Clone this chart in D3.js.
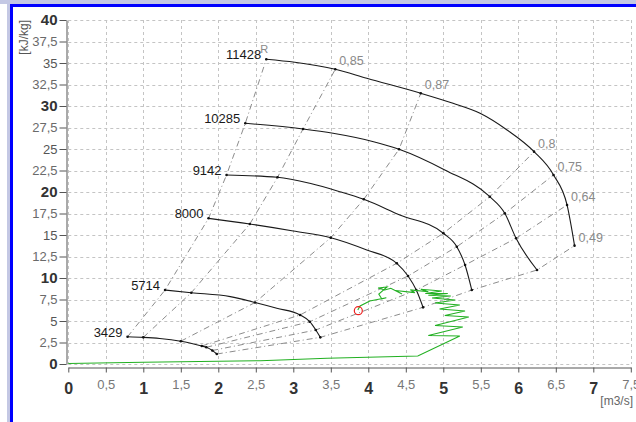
<!DOCTYPE html>
<html>
<head>
<meta charset="utf-8">
<script src="https://cdn.jsdelivr.net/npm/d3@7"></script>
<style>
html, body { margin: 0; padding: 0; background: #fff; }
svg { display: block; font-family: Arial, "Liberation Sans", sans-serif; }
</style>
</head>
<body>
<div id="wrapper"></div>
<script>
// speed lines (rpm) and efficiency lines
const speeds = [3429, 5714, 8000, 9142, 10285, 11428];
const effLabels = ["R", "0,85", "0,87", "0,8", "0,75", "0,64", "0,49"];

// marker points on each speed line, same order as effLabels
const marks3429 = [[0.79, 3.17], [1.00, 3.10], [1.50, 2.65], [1.78, 2.09], [1.84, 1.94], [1.92, 1.57], [1.98, 1.16]];
const marks5714 = [[1.29, 8.60], [1.64, 8.29], [2.49, 7.15], [3.09, 5.70], [3.22, 4.92], [3.30, 3.95], [3.36, 3.10]];
const marks8000 = [[1.87, 16.94], [2.42, 16.28], [3.50, 14.69], [4.38, 11.71], [4.53, 10.23], [4.64, 8.60], [4.73, 6.59]];
const marks9142 = [[2.11, 21.98], [2.79, 21.71], [3.94, 19.15], [5.00, 15.20], [5.18, 13.64], [5.29, 11.51], [5.38, 8.60]];
const marks10285 = [[2.36, 27.99], [3.13, 27.33], [4.41, 24.97], [5.62, 19.45], [5.82, 17.52], [5.97, 14.62], [6.25, 10.93]];
const marks11428 = [[2.64, 35.43], [3.56, 34.27], [4.70, 31.48], [6.21, 24.69], [6.47, 21.98], [6.65, 18.49], [6.75, 13.76]];

// extra points along each speed line between the markers
const mids3429 = [[1.22, 2.97], [1.62, 2.44]];
const mids5714 = [[2.16, 7.83], [2.78, 6.48]];
const mids8000 = [[3.00, 15.47], [3.98, 13.26]];
const mids9142 = [[3.22, 21.01], [3.62, 20.04], [4.42, 17.33]];
const mids10285 = [[3.53, 26.83], [4.07, 25.85], [5.02, 22.56]];
const mids11428 = [[3.02, 35.08], [3.98, 33.22], [5.13, 30.31], [5.49, 29.15], [5.85, 27.21]];

// operating trace (green)
const opLine = [
    [0, 0.05], [1.0, 0.2], [2.56, 0.38], [3.45, 0.66], [4.66, 0.93],
    [5.22, 3.26], [4.80, 3.31], [5.26, 4.30], [4.89, 4.48], [5.34, 5.47],
    [5.02, 5.64], [5.29, 6.16], [4.95, 6.40], [5.22, 6.86], [4.89, 7.09],
    [5.16, 7.44], [4.85, 7.67], [5.10, 7.90], [4.80, 8.00], [5.06, 8.20],
    [4.76, 8.20], [4.98, 8.49], [4.70, 8.70], [4.80, 8.40], [4.56, 8.62],
    [4.62, 8.30], [4.36, 8.55], [4.45, 8.14], [4.30, 8.80], [4.22, 8.60],
    [4.13, 8.84], [4.25, 8.95], [4.14, 8.14], [4.18, 7.56], [4.24, 7.70],
    [4.02, 7.33], [3.89, 6.74], [3.86, 6.28]
];
const currentPoint = [3.867, 6.2];

const xTicks = d3.range(0, 7.51, 0.5);
const yTicks = d3.range(0, 40.1, 2.5);

const marks = [marks3429, marks5714, marks8000, marks9142, marks10285, marks11428];
const mids = [mids3429, mids5714, mids8000, mids9142, mids10285, mids11428];

const width = 636, height = 422;
const svg = d3.select("#wrapper").append("svg")
    .attr("width", width)
    .attr("height", height);

// window frame
svg.append("rect").attr("x", 0).attr("y", 0).attr("width", width).attr("height", 4).attr("fill", "#c4c8e4");
svg.append("rect").attr("x", 7).attr("y", 0).attr("width", 3).attr("height", height).attr("fill", "#c4c8e4");
svg.append("rect").attr("x", 10).attr("y", 4).attr("width", width - 10).attr("height", 3).attr("fill", "#0000ff");
svg.append("rect").attr("x", 10).attr("y", 4).attr("width", 3).attr("height", height - 4).attr("fill", "#0000ff");

const x = d3.scaleLinear().domain([0, 7.5]).range([68.3, 630.8]);
const y = d3.scaleLinear().domain([0, 40]).range([364, 20]);

// grid
const grid = svg.append("g")
    .attr("stroke", "#c4c4c4")
    .attr("stroke-dasharray", "3,3")
    .attr("stroke-width", 1);
grid.selectAll(".gx").data(xTicks).join("line")
    .attr("class", "gx")
    .attr("x1", d => Math.round(x(d)) + 0.5).attr("x2", d => Math.round(x(d)) + 0.5)
    .attr("y1", y(40)).attr("y2", y(0));
grid.selectAll(".gy").data(yTicks).join("line")
    .attr("class", "gy")
    .attr("x1", x(0)).attr("x2", x(7.5))
    .attr("y1", d => Math.round(y(d)) + 0.5).attr("y2", d => Math.round(y(d)) + 0.5);

const fmt = d => String(d).replace(".", ",");

// y axis
const yAxis = svg.append("g")
    .attr("transform", "translate(66.5,0)")
    .call(d3.axisLeft(y).tickValues(yTicks).tickSize(7).tickSizeOuter(0).tickFormat(fmt));
yAxis.select(".domain").attr("stroke", "#555");
yAxis.selectAll(".tick line").attr("stroke", "#555");
yAxis.selectAll(".tick text")
    .attr("x", -9)
    .attr("font-family", "Arial, 'Liberation Sans', sans-serif")
    .attr("font-size", d => d % 10 === 0 ? 15 : 13)
    .attr("font-weight", d => d % 10 === 0 ? "bold" : "normal")
    .attr("fill", d => d % 10 === 0 ? "#333" : (d % 5 === 0 ? "#555" : "#6a6a6a"));

// x axis
const xAxis = svg.append("g")
    .attr("transform", "translate(0,367.5)")
    .call(d3.axisBottom(x).tickValues(xTicks).tickSize(5).tickSizeOuter(0).tickFormat(fmt));
xAxis.select(".domain").attr("stroke", "#555");
xAxis.selectAll(".tick line").attr("stroke", "#555");
xAxis.selectAll(".tick text")
    .attr("dy", 0)
    .attr("y", d => d % 1 === 0 ? 26.5 : 21)
    .attr("font-family", "Arial, 'Liberation Sans', sans-serif")
    .attr("font-size", d => d % 1 === 0 ? 16 : 13)
    .attr("font-weight", d => d % 1 === 0 ? "bold" : "normal")
    .attr("fill", d => d % 1 === 0 ? "#333" : "#777");

// unit labels
svg.append("text")
    .attr("x", 633).attr("y", 405)
    .attr("text-anchor", "end")
    .attr("font-size", 12)
    .attr("fill", "#666")
    .text("[m3/s]");
svg.append("text")
    .attr("transform", "translate(28,20) rotate(-90)")
    .attr("text-anchor", "end")
    .attr("font-size", 12)
    .attr("fill", "#555")
    .text("[kJ/kg]");

const lineGen = d3.line()
    .x(d => x(d[0]))
    .y(d => y(d[1]));

// efficiency lines (dash-dot)
const effLines = effLabels.map((lab, k) => marks.map(m => m[k]));
svg.append("g").selectAll("path").data(effLines).join("path")
    .attr("d", d => lineGen(d))
    .attr("fill", "none")
    .attr("stroke", "#8c8c8c")
    .attr("stroke-width", 1)
    .attr("stroke-dasharray", "6,3,1,3");

// speed lines
const speedCurve = d3.line()
    .x(d => x(d[0]))
    .y(d => y(d[1]))
    .curve(d3.curveMonotoneX);
const speedData = speeds.map((s, i) => marks[i].concat(mids[i]).sort((a, b) => a[0] - b[0]));
svg.append("g").selectAll("path").data(speedData).join("path")
    .attr("d", d => speedCurve(d))
    .attr("fill", "none")
    .attr("stroke", "#1a1a1a")
    .attr("stroke-width", 1.1);

// markers
svg.append("g").selectAll("circle").data(marks.flat()).join("circle")
    .attr("cx", d => x(d[0]))
    .attr("cy", d => y(d[1]))
    .attr("r", 1.3)
    .attr("fill", "#111");

// speed labels
svg.append("g").selectAll("text").data(speeds).join("text")
    .attr("x", (d, i) => x(marks[i][0][0]) - 5)
    .attr("y", (d, i) => y(marks[i][0][1]))
    .attr("text-anchor", "end")
    .attr("font-size", 13)
    .attr("fill", "#1a1a1a")
    .text(d => d);

// efficiency labels at the top speed line
const topMarks = marks11428;
svg.append("g").selectAll("text").data(effLabels).join("text")
    .attr("x", (d, k) => k === 0 ? x(topMarks[k][0]) - 6 : x(topMarks[k][0]) + 4)
    .attr("y", (d, k) => k === 0 ? y(topMarks[k][1]) - 6 : y(topMarks[k][1]) - 4)
    .attr("font-size", d => d === "R" ? 11 : 12.5)
    .attr("fill", "#8a8a8a")
    .text(d => d);

// operating trace
svg.append("path")
    .attr("d", lineGen(opLine))
    .attr("fill", "none")
    .attr("stroke", "#22b022")
    .attr("stroke-width", 1.1);

svg.append("circle")
    .attr("cx", x(currentPoint[0]))
    .attr("cy", y(currentPoint[1]))
    .attr("r", 4)
    .attr("fill", "none")
    .attr("stroke", "#ee2020")
    .attr("stroke-width", 1.2);
</script>
</body>
</html>
